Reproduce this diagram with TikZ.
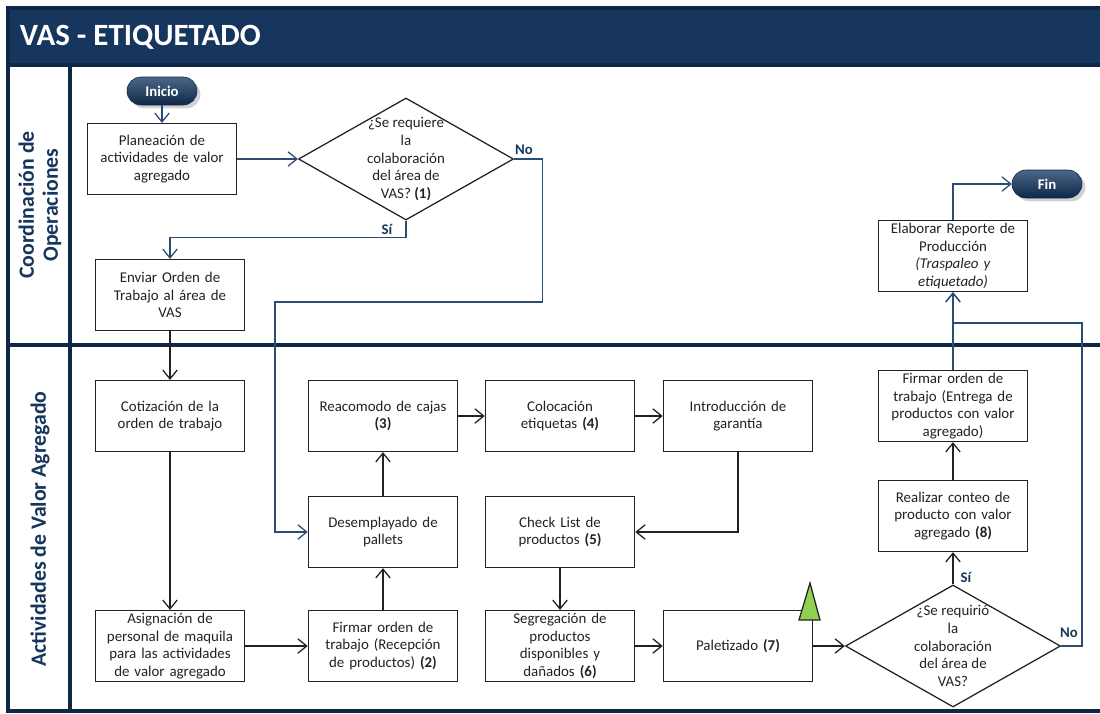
\documentclass[tikz,border=0pt]{standalone}
\usepackage{fontspec}
\setmainfont{Carlito}
\usepackage{tikz}
\usetikzlibrary{arrows.meta,shapes.geometric,shadows}
\definecolor{navy}{HTML}{17365D}
\definecolor{deepnavy}{HTML}{0F2747}
\definecolor{linkblue}{HTML}{2B4C74}
\definecolor{ink}{HTML}{222222}
\definecolor{flag}{HTML}{92D050}

\begin{document}
\begin{tikzpicture}[x=0.025cm,y=-0.025cm,
 box/.style={draw=ink,line width=0.9pt,fill=white,minimum width=3.675cm,minimum height=1.775cm,text width=3.5cm,inner ysep=1pt,align=center,font=\fontsize{10.6}{12.5}\selectfont,text=ink},
 decision/.style={diamond,draw=ink,line width=0.9pt,fill=white,minimum width=5.375cm,minimum height=3.05cm,inner sep=0pt},
 qtext/.style={align=center,font=\fontsize{10.6}{12.6}\selectfont,text=ink},
 pill/.style={rounded corners=0.35cm,minimum width=1.75cm,minimum height=0.7cm,top color=linkblue!85!white,bottom color=deepnavy,draw=deepnavy,text=white,font=\fontsize{10.5}{12}\selectfont\bfseries,drop shadow={opacity=0.35}},
 answer/.style={text=navy,font=\fontsize{10.5}{12}\selectfont\bfseries,inner sep=0pt},
 lanetitle/.style={rotate=90,align=center,text=navy,font=\fontsize{15.5}{17}\selectfont\bfseries},
 lane/.style={draw=deepnavy,line width=2.2pt},
 arr/.style={-{Straight Barb[length=2.2mm,width=3.6mm]},line width=0.9pt,draw=ink},
 arrb/.style={arr,draw=linkblue}]
\useasboundingbox (0,0) rectangle (1100,713);
\fill[white] (0,0) rectangle (1100,713);
\fill[navy] (8,8) rectangle (1100,65);
\node[anchor=west,text=white,font=\fontsize{22}{26}\selectfont\bfseries] (title) at (15,37) {VAS - ETIQUETADO};
\draw[lane] (1100,8) -- (8,8) -- (8,711) -- (1100,711);
\draw[lane] (8,65) -- (1100,65);
\draw[lane] (70,65) -- (70,711);
\draw[lane] (8,345) -- (1100,345);
\node[lanetitle] (laneop) at (40,205) {Coordinación de\\Operaciones};
\node[lanetitle] (lanevas) at (40,529) {Actividades de Valor Agregado};

\node[pill] (inicio) at (162,91) {Inicio};
\node[box] (plan) at (162,159) {Planeación de\\actividades de valor\\agregado};
\node[decision,label={[qtext]center:{¿Se requiere\\la\\colaboración\\del área de\\VAS? \textbf{(1)}}}] (q1) at (406,159) {};
\node[box] (enviar) at (170,295) {Enviar Orden de\\Trabajo al área de\\VAS};
\node[box] (cotiza) at (170,416) {Cotización de la\\orden de trabajo};
\node[box] (asigna) at (170,646) {Asignación de\\personal de maquila\\para las actividades\\de valor agregado};
\node[box] (recibe) at (383,646) {Firmar orden de\\trabajo (Recepción\\de productos) \textbf{(2)}};
\node[box] (desemp) at (383,532) {Desemplayado de\\pallets};
\node[box] (reacomodo) at (383,416) {Reacomodo de cajas\\\textbf{(3)}};
\node[box] (etiqueta) at (560,416) {Colocación\\etiquetas \textbf{(4)}};
\node[box] (garantia) at (738,416) {Introducción de\\garantía};
\node[box] (checklist) at (560,532) {Check List de\\productos \textbf{(5)}};
\node[box] (segrega) at (560,646) {Segregación de\\productos\\disponibles y\\dañados \textbf{(6)}};
\node[box] (paletiza) at (738,646) {Paletizado \textbf{(7)}};
\node[decision,label={[qtext]center:{¿Se requirió\\la\\colaboración\\del área de\\VAS?}}] (q2) at (953,646) {};
\node[box] (conteo) at (953,516) {Realizar conteo de\\producto con valor\\agregado \textbf{(8)}};
\node[box] (entrega) at (953,406) {Firmar orden de\\trabajo (Entrega de\\productos con valor\\agregado)};
\node[box] (reporte) at (953,256) {Elaborar Reporte de\\Producción\\\textit{(Traspaleo y}\\\textit{etiquetado)}};
\node[pill] (fin) at (1047,184) {Fin};

\node[answer] (si1) at (387,229) {Sí};
\node[answer] (no1) at (524,150) {No};
\node[answer] (si2) at (966,577) {Sí};
\node[answer] (no2) at (1069,633) {No};

\foreach \a/\b in {enviar/cotiza,cotiza/asigna,asigna/recibe,recibe/desemp,desemp/reacomodo,reacomodo/etiqueta,etiqueta/garantia,checklist/segrega,segrega/paletiza,paletiza/q2,q2/conteo,conteo/entrega}
  \draw[arr] (\a) -- (\b);
\foreach \a/\b in {inicio/plan,plan/q1,entrega/reporte}
  \draw[arrb] (\a) -- (\b);
\draw[arrb] (q1.south) -- ++(0,17) -| (enviar.north);
\draw[arrb] (q1.east) -- ++(28,0) |- (275,302) |- (desemp.west);
\draw[arr] (garantia.south) |- (checklist.east);
\draw[arrb] (q2.east) -| (1082,323) -| (reporte.south);
\draw[arrb] (reporte.north) |- (fin.west);
\filldraw[fill=flag,draw=ink,line width=0.9pt] (799,620) -- (810,583) -- (820,620) -- cycle;
\end{tikzpicture}
\end{document}
